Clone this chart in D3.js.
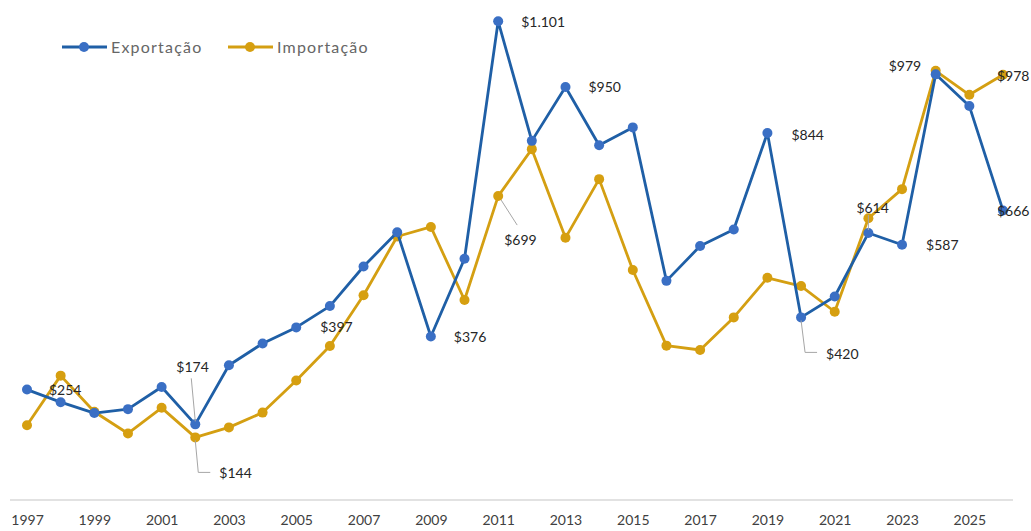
<!DOCTYPE html>
<html>
<head>
<meta charset="utf-8">
<script src="https://cdn.jsdelivr.net/npm/d3@7"></script>
<style>
  body { margin: 0; background: #fff; }
  svg { font-family: Lato, "Open Sans", sans-serif; }
</style>
</head>
<body>
<svg id="chart"></svg>
<script>
var years = d3.range(1997, 2027);

var exportacao = [254, 225, 200, 209, 260, 174, 310, 360, 397, 446,
                  537, 616, 376, 555, 1101, 826, 950, 816, 857, 504,
                  584, 622, 844, 420, 468, 614, 587, 979, 906, 666];

var importacao = [172, 286, 203, 153, 212, 144, 167, 201, 275, 354,
                  471, 606, 628, 460, 699, 807, 603, 738, 529, 355,
                  345, 420, 511, 492, 433, 648, 715, 987, 932, 978];

var tickYears = years.filter(function (y) { return (y - 1997) % 2 === 0; });

// which points get a data label
var expLabelYears = [1997, 2002, 2005, 2009, 2011, 2013, 2019, 2020, 2022, 2023, 2024, 2026];
var impLabelYears = [2002, 2011, 2026];

var width = 1031, height = 531;

var svg = d3.select('#chart')
    .attr('width', width)
    .attr('height', height);

var x = d3.scalePoint()
    .domain(years)
    .range([27, 1003]);

var y = d3.scaleLinear()
    .domain([0, 1150])
    .range([500, 0]);

// horizontal axis line
svg.append('line')
    .attr('x1', 10).attr('x2', 1013)
    .attr('y1', y(0)).attr('y2', y(0))
    .attr('stroke', '#d9d9d9')
    .attr('stroke-width', 1.5);

var xAxis = d3.axisBottom(x)
    .tickValues(tickYears)
    .tickSize(0)
    .tickPadding(15);

var gx = svg.append('g')
    .attr('transform', 'translate(0,' + y(0) + ')')
    .call(xAxis);
gx.select('.domain').remove();
gx.selectAll('text')
    .attr('font-family', 'Lato, sans-serif')
    .attr('font-size', 14)
    .attr('fill', '#404040');

var series = [
    {name: 'Exportação', values: exportacao, line: '#1f5fa6', dot: '#3a6fc4'},
    {name: 'Importação', values: importacao, line: '#d49f12', dot: '#d69f10'}
];

var line = d3.line()
    .x(function (d, i) { return x(years[i]); })
    .y(function (d) { return y(d); });

// importação first so exportação sits on top where they cross
[series[1], series[0]].forEach(function (s) {
    svg.append('path')
        .datum(s.values)
        .attr('fill', 'none')
        .attr('stroke', s.line)
        .attr('stroke-width', 2.8)
        .attr('stroke-linejoin', 'round')
        .attr('d', line);
    svg.append('g').selectAll('circle')
        .data(s.values)
        .enter()
        .append('circle')
        .attr('cx', function (d, i) { return x(years[i]); })
        .attr('cy', function (d) { return y(d); })
        .attr('r', 5)
        .attr('fill', s.dot);
});

function money(v) {
    return '$' + d3.format(',')(v).replace(/,/g, '.');
}

// label placement relative to the point (dx, dy of text start/baseline), plus optional leader
var labelPlace = {
    'e1997': {dx: 22, dy: 5},
    'e2002': {dx: -19, dy: -52, leader: [[-4, -46], [0, -3]]},
    'e2005': {dx: 24, dy: 5},
    'e2009': {dx: 23, dy: 5},
    'e2011': {dx: 23, dy: 6},
    'e2013': {dx: 23, dy: 5},
    'e2019': {dx: 24, dy: 7},
    'e2020': {dx: 25, dy: 42, leader: [[0, 3], [4, 35], [16, 35]]},
    'e2022': {dx: -12, dy: -20, leader: [[0, -3], [0, -18]]},
    'e2023': {dx: 24, dy: 5},
    'e2024': {dx: -47, dy: -3},
    'e2026': {dx: -6, dy: 6},
    'i2002': {dx: 24, dy: 41, leader: [[0, 3], [3, 35], [15, 35]]},
    'i2011': {dx: 6, dy: 49, leader: [[3, 4], [19, 29]]},
    'i2026': {dx: -6, dy: 6}
};

var labels = [];
expLabelYears.forEach(function (yr) {
    labels.push({key: 'e' + yr, year: yr, value: exportacao[years.indexOf(yr)]});
});
impLabelYears.forEach(function (yr) {
    labels.push({key: 'i' + yr, year: yr, value: importacao[years.indexOf(yr)]});
});

labels.forEach(function (d) {
    var p = labelPlace[d.key];
    var px = x(d.year), py = y(d.value);
    if (p.leader) {
        svg.append('path')
            .attr('d', d3.line()(p.leader.map(function (q) { return [px + q[0], py + q[1]]; })))
            .attr('fill', 'none')
            .attr('stroke', '#a6a6a6')
            .attr('stroke-width', 1);
    }
    svg.append('text')
        .attr('x', px + p.dx)
        .attr('y', py + p.dy)
        .attr('font-size', 14)
        .attr('fill', '#262626')
        .text(money(d.value));
});

// legend
var legend = svg.append('g');
series.forEach(function (s, i) {
    var lx = i === 0 ? 62 : 228;
    legend.append('line')
        .attr('x1', lx).attr('x2', lx + 45)
        .attr('y1', 47).attr('y2', 47)
        .attr('stroke', s.line)
        .attr('stroke-width', 2.8);
    legend.append('circle')
        .attr('cx', lx + 22).attr('cy', 47)
        .attr('r', 5)
        .attr('fill', s.dot);
    legend.append('text')
        .attr('x', lx + 49)
        .attr('y', 53)
        .attr('font-size', 16)
        .attr('letter-spacing', 1.2)
        .attr('fill', '#666666')
        .text(s.name);
});
</script>
</body>
</html>
